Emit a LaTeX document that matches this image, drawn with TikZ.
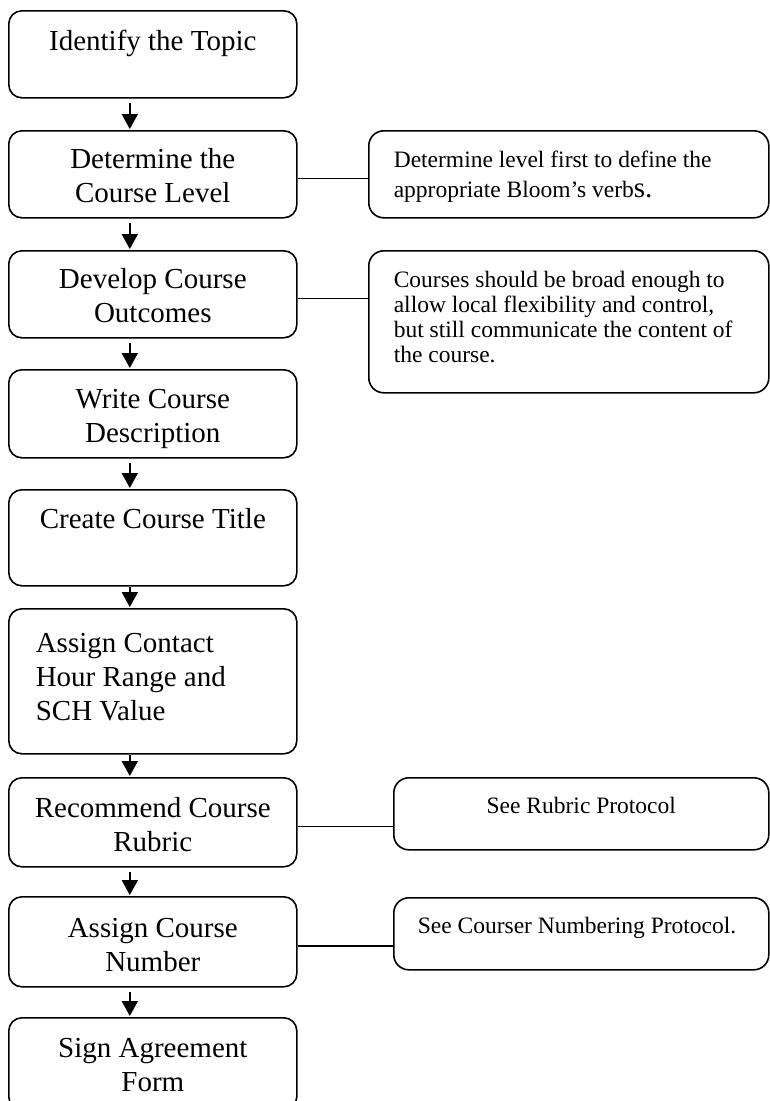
\documentclass[tikz,border=0pt]{standalone}
\usepackage{fontspec}
\setmainfont{Liberation Serif}
\usetikzlibrary{arrows.meta,calc}
% box text: height, width, alignment, depth of first baseline, lines
\newcommand{\inbox}[5]{\parbox[b][#1][t]{#2}{#3\rule{0pt}{#4}#5}}

\begin{document}
\begin{tikzpicture}[x=1pt, y=-1pt, >={Triangle[width=16pt,length=15pt]},
  stepbox/.style={draw, line width=1.6pt, rounded corners=13pt, inner sep=0pt, anchor=north west, font=\fontsize{29}{34}\selectfont},
  notebox/.style={draw, line width=1.6pt, rounded corners=15pt, inner sep=0pt, anchor=north west, font=\fontsize{23.5}{25}\selectfont},
  flow/.style={->, line width=1.8pt, shorten <=4pt, shorten >=1pt},
  link/.style={line width=1.4pt}]
\useasboundingbox (0,0) rectangle (770,1101);
\clip (0,0) rectangle (770,1101);

% main steps
\node[stepbox] (b1) at (8,10) {\inbox{87pt}{288pt}{\centering}{40pt}{Identify the Topic}};
\node[stepbox] (b2) at (8,130) {\inbox{87pt}{288pt}{\centering}{38pt}{Determine the\\Course Level}};
\node[stepbox] (b3) at (8,250) {\inbox{87pt}{288pt}{\centering}{38pt}{Develop Course\\Outcomes}};
\node[stepbox] (b4) at (8,369) {\inbox{88pt}{288pt}{\centering}{39pt}{Write Course\\Description}};
\node[stepbox] (b5) at (8,489) {\inbox{96pt}{288pt}{\centering}{39pt}{Create Course Title}};
\node[stepbox] (b6) at (8,608) {\inbox{145pt}{288pt}{\raggedright\leftskip=27pt}{44pt}{Assign Contact\\Hour Range and\\SCH Value}};
\node[stepbox] (b7) at (8,777) {\inbox{89pt}{288pt}{\centering}{40pt}{Recommend Course\\Rubric}};
\node[stepbox] (b8) at (8,896) {\inbox{90pt}{288pt}{\centering}{41pt}{Assign Course\\Number}};
\node[stepbox] (b9) at (8,1017) {\inbox{92pt}{288pt}{\centering}{40pt}{Sign Agreement\\Form}};

% side notes
\node[notebox] (n1) at (368,130) {\inbox{87pt}{400pt}{\raggedright\leftskip=25pt\baselineskip=30pt}{37pt}{Determine level first to define the\\appropriate Bloom's verb{\fontsize{29}{30}\selectfont s.}}};
\node[notebox] (n2) at (368,250) {\inbox{142pt}{400pt}{\raggedright\leftskip=25pt}{37pt}{Courses should be broad enough to\\allow local flexibility and control,\\but still communicate the content of\\the course.}};
\node[notebox] (n3) at (393,777) {\inbox{72pt}{375pt}{\centering}{36pt}{See Rubric Protocol}};
\node[notebox] (n4) at (393,897) {\inbox{72pt}{375pt}{\raggedright\leftskip=24pt}{36pt}{See Courser Numbering Protocol.}};

\draw[flow] ([xshift=-23pt]b1.south) -- ([xshift=-23pt]b2.north); \draw[flow] ([xshift=-23pt]b2.south) -- ([xshift=-23pt]b3.north);
\draw[flow] ([xshift=-23pt]b3.south) -- ([xshift=-23pt]b4.north); \draw[flow] ([xshift=-23pt]b4.south) -- ([xshift=-23pt]b5.north);
\draw[flow,shorten <=0pt] ([xshift=-23pt]b5.south) -- ([xshift=-23pt]b6.north); \draw[flow,shorten <=0pt] ([xshift=-23pt]b6.south) -- ([xshift=-23pt]b7.north);
\draw[flow] ([xshift=-23pt]b7.south) -- ([xshift=-23pt]b8.north); \draw[flow] ([xshift=-23pt]b8.south) -- ([xshift=-23pt]b9.north);

\draw[link] ([yshift=-4pt]b2.east) -- ([yshift=-4pt]b2.east -| n1.west);
\draw[link] ([yshift=-4pt]b3.east) -- ([yshift=-4pt]b3.east -| n2.west);
\draw[link] ([yshift=-4pt]b7.east) -- ([yshift=-4pt]b7.east -| n3.west);
\draw[link] ([yshift=-4pt]b8.east) -- ([yshift=-4pt]b8.east -| n4.west);
\end{tikzpicture}
\end{document}
